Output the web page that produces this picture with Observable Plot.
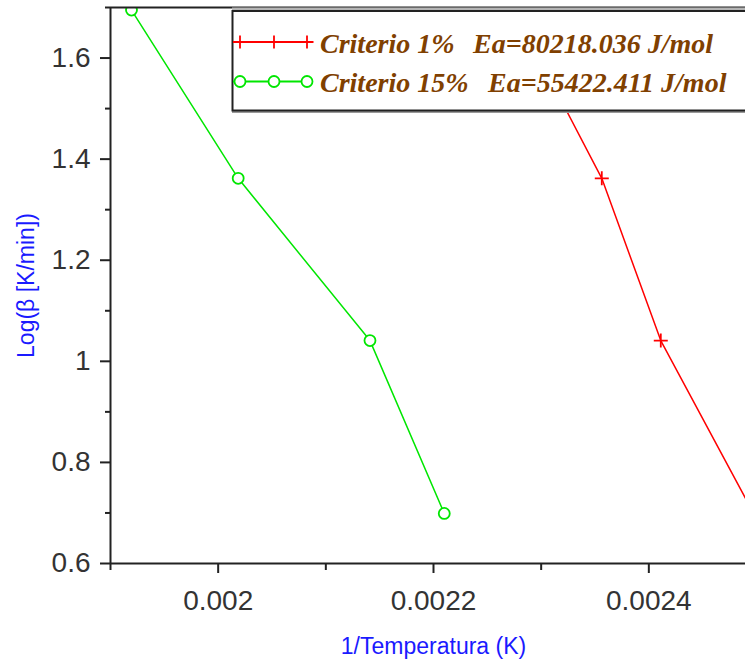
<!DOCTYPE html>
<html>
<head>
<meta charset="utf-8">
<script src="https://cdn.jsdelivr.net/npm/d3@7"></script>
<script src="https://cdn.jsdelivr.net/npm/@observablehq/plot@0.6"></script>
<style>
  html, body { margin: 0; padding: 0; background: #fff; overflow: hidden; }
  #chart { width: 745px; height: 660px; overflow: hidden; }
  #chart svg { max-width: none !important; }
</style>
</head>
<body>
<div id="chart"></div>
<script>
// Heating-rate data: log(β) against inverse peak temperature
const logBeta = [1.695, 1.362, 1.041, 0.699];
const invT_1pct = [0.0022748, 0.0023563, 0.0024111, 0.0024973];
const invT_15pct = [0.0019195, 0.0020186, 0.002141, 0.00221];

// Legend entries
const seriesNames = ["Criterio 1%", "Criterio 15%"];
const seriesEa = ["Ea=80218.036 J/mol", "Ea=55422.411 J/mol"];
const seriesColors = ["#ff0000", "#00e600"];

// Axis ticks
const xMajor = [0.002, 0.0022, 0.0024];
const xMinor = [0.0019, 0.0021, 0.0023, 0.0025];
const yMajor = [0.6, 0.8, 1.0, 1.2, 1.4, 1.6];
const yMinor = [0.7, 0.9, 1.1, 1.3, 1.5, 1.7];
const xTitle = "1/Temperatura (K)";
const yTitle = "Log(β [K/min])";

const s1 = invT_1pct.map((x, i) => ({x, y: logBeta[i]}));
const s15 = invT_15pct.map((x, i) => ({x, y: logBeta[i]}));

// "+" marker drawn as two strokes
const plusSymbol = {
  draw(ctx, size) {
    const r = Math.sqrt(size / Math.PI);
    ctx.moveTo(-r, 0); ctx.lineTo(r, 0);
    ctx.moveTo(0, -r); ctx.lineTo(0, r);
  }
};

const axisColor = "#222";
const tickFont = 28;

const chart = Plot.plot({
  width: 760,
  height: 660,
  marginLeft: 110,
  marginRight: 4,
  marginTop: 7,
  marginBottom: 97,
  style: {fontFamily: "'Liberation Sans', Arial, sans-serif", color: axisColor, background: "#fff", overflow: "visible", maxWidth: "none"},
  x: {domain: [0.0019, 0.0025]},
  y: {domain: [0.6, 1.7]},
  marks: [
    Plot.line(s15, {x: "x", y: "y", stroke: seriesColors[1], strokeWidth: 1.5, clip: true}),
    Plot.dot(s15, {x: "x", y: "y", r: 5.5, stroke: seriesColors[1], fill: "#fff", strokeWidth: 1.8, clip: true}),
    Plot.line(s1, {x: "x", y: "y", stroke: seriesColors[0], strokeWidth: 1.5, clip: true}),
    Plot.dot(s1, {x: "x", y: "y", r: 7, symbol: plusSymbol, stroke: seriesColors[0], fill: "none", strokeWidth: 1.8, clip: true}),
    // frame lines
    Plot.ruleX([0.0019], {stroke: axisColor, strokeWidth: 2}),
    Plot.ruleY([0.6], {stroke: axisColor, strokeWidth: 2}),
    Plot.ruleY([1.7], {stroke: axisColor, strokeWidth: 2}),
    // axes
    Plot.axisY(yMajor, {tickSize: 10, tickPadding: 10, fontSize: tickFont, tickFormat: d => String(d), strokeWidth: 2, fill: "#333", label: null}),
    Plot.axisY(yMinor, {tickSize: 5, tickFormat: () => "", strokeWidth: 2, label: null}),
    Plot.axisX(xMajor, {tickSize: 10, tickPadding: 17, fontSize: tickFont, tickFormat: d => String(d), strokeWidth: 2, fill: "#333", label: null}),
    Plot.axisX(xMinor, {tickSize: 7, tickFormat: () => "", strokeWidth: 2, label: null}),
    // axis titles
    Plot.text([yTitle], {frameAnchor: "left", rotate: -90, dx: -84, textAnchor: "middle", lineAnchor: "middle", fontSize: 23, fill: "#1a1aff"}),
    Plot.text([xTitle], {frameAnchor: "bottom", dy: 90, textAnchor: "middle", lineAnchor: "bottom", fontSize: 23, fill: "#1a1aff"})
  ]
});

document.getElementById("chart").appendChild(chart);

// Legend box with line samples and labels
const svg = d3.select(chart);
const lg = svg.append("g").attr("text-anchor", "start");
lg.append("rect").attr("x", 232).attr("y", 7.5).attr("width", 540).attr("height", 3.5).attr("fill", "#b4b4b4");
lg.append("rect").attr("x", 233).attr("y", 12).attr("width", 540).attr("height", 100)
  .attr("fill", "#fff").attr("stroke", "#999").attr("stroke-width", 2);
lg.append("rect").attr("x", 232.5).attr("y", 11).attr("width", 540).attr("height", 99.5)
  .attr("fill", "#fff").attr("stroke", axisColor).attr("stroke-width", 2);

const rowsY = [42, 81.5];
const sampleX = [240, 274, 307];
// red row
lg.append("line").attr("x1", 233).attr("x2", 308).attr("y1", rowsY[0]).attr("y2", rowsY[0])
  .attr("stroke", seriesColors[0]).attr("stroke-width", 1.8);
sampleX.forEach(x => {
  lg.append("path").attr("d", `M${x - 6.5},${rowsY[0]}H${x + 6.5}M${x},${rowsY[0] - 6.5}V${rowsY[0] + 6.5}`)
    .attr("stroke", seriesColors[0]).attr("stroke-width", 1.8).attr("fill", "none");
});
// green row
lg.append("line").attr("x1", 233).attr("x2", 308).attr("y1", rowsY[1]).attr("y2", rowsY[1])
  .attr("stroke", seriesColors[1]).attr("stroke-width", 1.8);
sampleX.forEach(x => {
  lg.append("circle").attr("cx", x).attr("cy", rowsY[1]).attr("r", 5.5)
    .attr("stroke", seriesColors[1]).attr("stroke-width", 1.8).attr("fill", "#fff");
});

const nameX = [320, 320];
const eaX = [473, 488];
const baseY = [53, 91.5];
seriesNames.forEach((name, i) => {
  const t = lg.append("text").attr("y", baseY[i]).attr("text-anchor", "start")
    .attr("font-family", "'Liberation Serif', 'Times New Roman', serif")
    .attr("font-weight", "bold").attr("font-style", "italic")
    .attr("font-size", 28).attr("fill", "#804000");
  t.append("tspan").attr("x", nameX[i]).text(name);
  t.append("tspan").attr("x", eaX[i]).text(seriesEa[i]);
});
</script>
</body>
</html>
